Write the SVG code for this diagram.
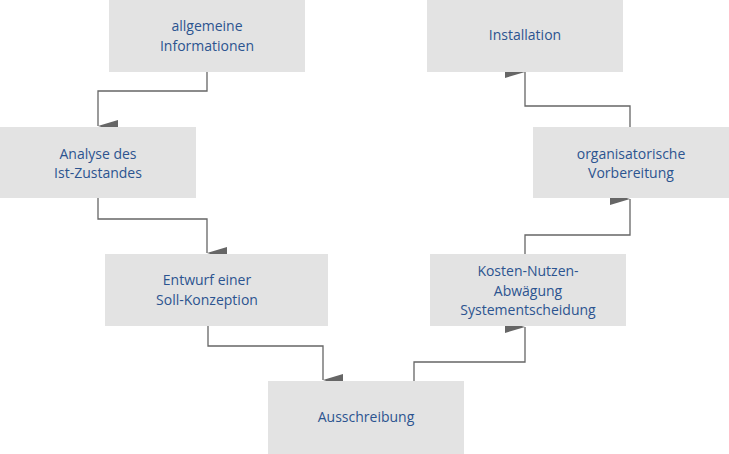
<svg xmlns="http://www.w3.org/2000/svg" width="729" height="454" viewBox="0 0 729 454">
<style>
.n{fill:#e3e3e3}
.t{font-family:"Open Sans","Liberation Sans",sans-serif;font-size:14px;fill:#2c5490;text-anchor:middle}
.c{fill:none;stroke:#666;stroke-width:1.3}
</style>
<defs><marker id="a" viewBox="0 0 12 20" refX="6" refY="20" markerWidth="12" markerHeight="20" markerUnits="userSpaceOnUse" orient="auto-start-reverse"><path d="M0,0 L12,0 L6,20 Z" fill="#666"/></marker></defs>
<rect width="729" height="454" fill="#fff"/>
<g id="connectors">
<path class="c" d="M207,72 V91 H98 V126" marker-end="url(#a)"/>
<path class="c" d="M98,198 V219 H207 V253" marker-end="url(#a)"/>
<path class="c" d="M208,326 V346 H323 V380" marker-end="url(#a)"/>
<path class="c" d="M414,381 V362 H525 V327" marker-end="url(#a)"/>
<path class="c" d="M525,254 V235 H630 V199" marker-end="url(#a)"/>
<path class="c" d="M630,127 V106 H525 V72" marker-end="url(#a)"/>
</g>
<g id="n1"><rect class="n" x="109" y="0" width="196" height="72"/><text class="t" x="207" y="31">allgemeine</text><text class="t" x="207" y="51">Informationen</text></g>
<g id="n2"><rect class="n" x="0" y="127" width="196" height="71"/><text class="t" x="98" y="159">Analyse des</text><text class="t" x="98" y="178">Ist-Zustandes</text></g>
<g id="n3"><rect class="n" x="105" y="254" width="223" height="72"/><text class="t" x="207" y="285">Entwurf einer</text><text class="t" x="207" y="305">Soll-Konzeption</text></g>
<g id="n4"><rect class="n" x="268" y="381" width="196" height="73"/><text class="t" x="366" y="422">Ausschreibung</text></g>
<g id="n5"><rect class="n" x="430" y="254" width="196" height="72"/><text class="t" x="528" y="276">Kosten-Nutzen-</text><text class="t" x="528" y="296">Abwägung</text><text class="t" x="528" y="315">Systementscheidung</text></g>
<g id="n6"><rect class="n" x="533" y="127" width="196" height="71"/><text class="t" x="631" y="159">organisatorische</text><text class="t" x="631" y="178">Vorbereitung</text></g>
<g id="n7"><rect class="n" x="427" y="0" width="196" height="72"/><text class="t" x="525" y="40">Installation</text></g>
</svg>
